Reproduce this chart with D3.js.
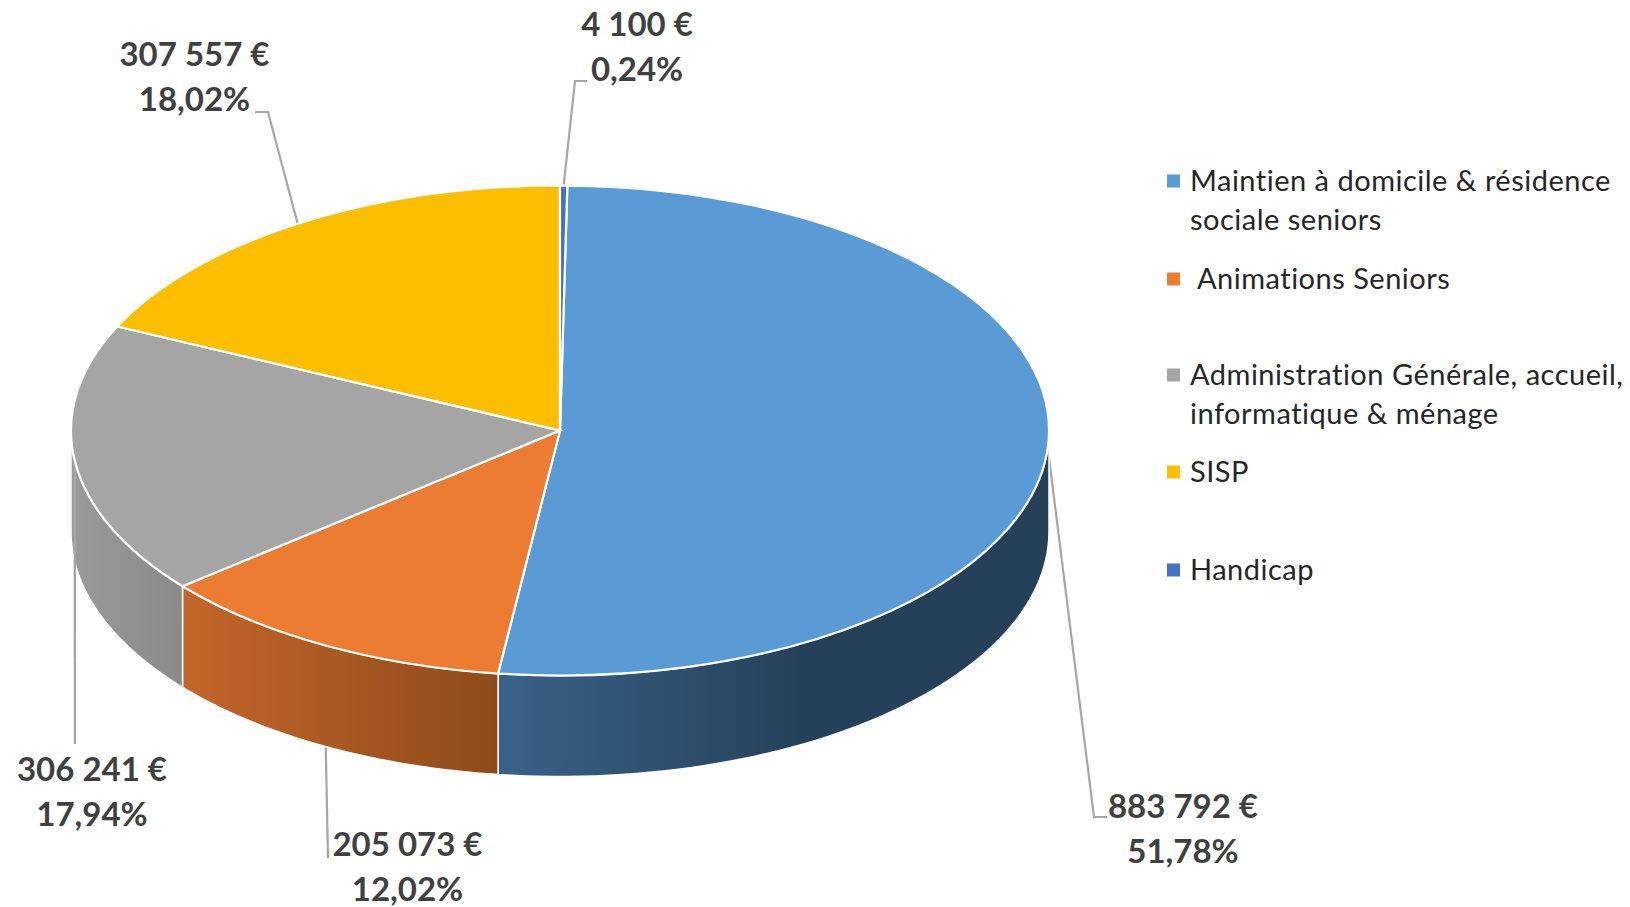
<!DOCTYPE html>
<html>
<head>
<meta charset="utf-8">
<script src="https://cdn.jsdelivr.net/npm/d3@7"></script>
<style>
html,body{margin:0;padding:0;background:#fff;}
svg{display:block;}
.value{font-family:Lato,"Noto Sans",sans-serif;font-weight:700;font-size:33px;fill:#404040;text-anchor:middle;}
.legend{font-family:Lato,"Noto Sans",sans-serif;font-size:29px;letter-spacing:0.5px;fill:#262626;}
</style>
</head>
<body>
<svg width="1630" height="907"></svg>
<script>
// donnees
var categories=["Maintien à domicile & résidence sociale seniors"," Animations Seniors","Administration Générale, accueil, informatique & ménage","SISP","Handicap"];
var values=[883792,205073,306241,307557,4100];
var amountLabels=["883 792 €","205 073 €","306 241 €","307 557 €","4 100 €"];
var percentLabels=["51,78%","12,02%","17,94%","18,02%","0,24%"];
var legendLines=[["Maintien à domicile & résidence","sociale seniors"],["\u00a0Animations Seniors"],["Administration Générale, accueil,","informatique & ménage"],["SISP"],["Handicap"]];
var colors=["#5B9BD5","#EB7C31","#A5A5A5","#FBBF00","#4472C4"];

// mise en page
var cx=560,cy=430.5,rx=489,ry=245,depth=101;
var startDeg=0.86;
var wallColors=[["#3A6288","#25415A"],["#C4662A","#8E4B1A"],["#9A9A9A","#8A8A8A"],["#000","#000"],["#000","#000"]];
var elbows=[[[1094,817],[1107,817]],[[328,858]],[[75,744]],[[268,112],[255,112]],[[575,81],[587,81]]];
var labelPos=[[1183,818],[407.5,856],[92,781],[194.5,66],[637,36]];
var legendY=[181,279,375,472,570];
var leaderOverWall=2; // le rappel gris reste visible sur le flanc

var svg=d3.select("svg");
var ratio=ry/rx;
var pie=d3.pie().sort(null).startAngle(startDeg*Math.PI/180).endAngle(2*Math.PI+startDeg*Math.PI/180);
var arcs=pie(values);
var arc=d3.arc().innerRadius(0).outerRadius(rx);

function px(a){return cx+rx*Math.sin(a);}
function py(a){return cy-ry*Math.cos(a);}
function leader(d,i){
	var mid=(d.startAngle+d.endAngle)/2;
	return d3.line()([[px(mid),py(mid)]].concat(elbows[i]));
}

// lignes de rappel, sous le camembert
svg.append("g").selectAll("path").data(arcs).enter().append("path")
	.attr("d",leader)
	.attr("fill","none").attr("stroke","#A6A6A6").attr("stroke-width",2.2);

// flanc visible
var defs=svg.append("defs");
var sides=svg.append("g");
arcs.forEach(function(d,i){
	var a0=Math.max(d.startAngle,Math.PI/2),a1=Math.min(d.endAngle,3*Math.PI/2);
	if(a1<=a0)return;
	var grad=defs.append("linearGradient").attr("id","wall"+i).attr("gradientUnits","userSpaceOnUse")
		.attr("x1",px(a1)).attr("y1",0).attr("x2",px(a0)).attr("y2",0);
	grad.append("stop").attr("offset",0).attr("stop-color",wallColors[i][0]);
	grad.append("stop").attr("offset",i==0?0.55:1).attr("stop-color",wallColors[i][1]);
	var steps=d3.range(0,61).map(function(k){return a0+(a1-a0)*k/60;});
	var top=steps.map(function(a){return [px(a),py(a)];});
	var bot=steps.slice().reverse().map(function(a){return [px(a),py(a)+depth];});
	sides.append("path").attr("d",d3.line()(top.concat(bot))+"Z")
		.attr("fill","url(#wall"+i+")").attr("stroke","#fff").attr("stroke-width",1.5);
});

svg.append("path").attr("d",leader(arcs[leaderOverWall],leaderOverWall))
	.attr("fill","none").attr("stroke","#A6A6A6").attr("stroke-width",2.2);

// dessus
svg.append("g").attr("transform","translate("+cx+","+cy+") scale(1,"+ratio+")")
	.selectAll("path").data(arcs).enter().append("path")
	.attr("d",arc)
	.attr("fill",function(d,i){return colors[i];})
	.attr("stroke","#fff").attr("stroke-width",2.2).attr("vector-effect","non-scaling-stroke");

// etiquettes
var lab=svg.append("g").selectAll("text").data(categories).enter().append("text")
	.attr("class","value")
	.attr("x",function(d,i){return labelPos[i][0];})
	.attr("y",function(d,i){return labelPos[i][1];});
lab.append("tspan").text(function(d,i){return amountLabels[i];});
lab.append("tspan").attr("x",function(d,i){return labelPos[i][0];}).attr("dy",44.7).text(function(d,i){return percentLabels[i];});

// legende
var leg=svg.append("g").selectAll("g").data(categories).enter().append("g");
leg.append("rect").attr("x",1167).attr("width",13).attr("height",13)
	.attr("y",function(d,i){return legendY[i]-6.5;})
	.attr("fill",function(d,i){return colors[i];});
leg.each(function(d,i){
	d3.select(this).selectAll("text").data(legendLines[i]).enter().append("text")
		.attr("class","legend").attr("x",1190)
		.attr("y",function(t,j){return legendY[i]+10+j*39;})
		.text(function(t){return t;});
});
</script>
</body>
</html>
